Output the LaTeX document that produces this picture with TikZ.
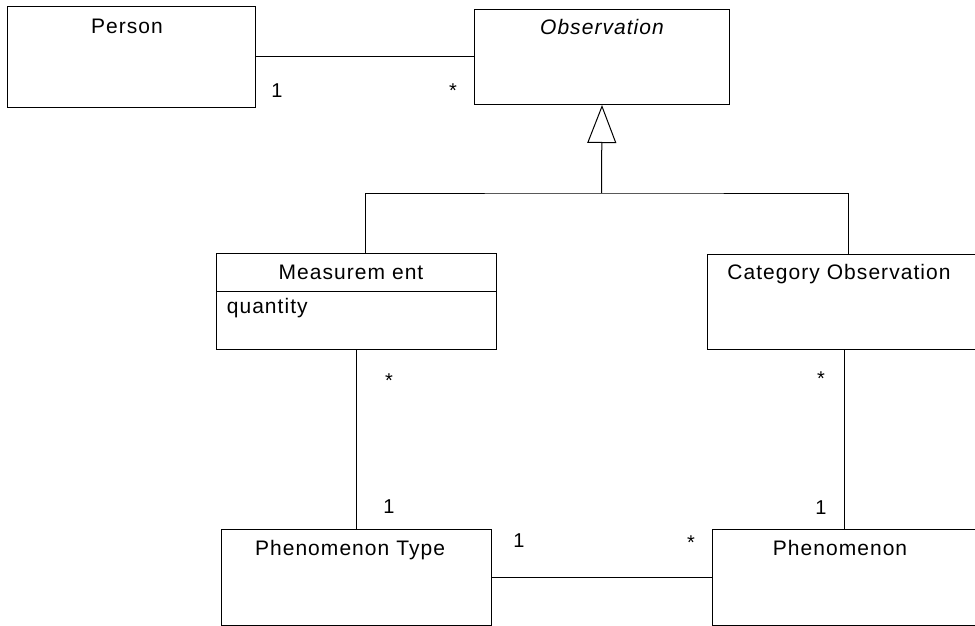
\documentclass[tikz,border=0pt]{standalone}
\usepackage{fontspec}
\setmainfont[LetterSpace=5]{Liberation Sans}
\usetikzlibrary{arrows.meta}

\begin{document}
\begin{tikzpicture}[x=1pt,y=-1pt,line width=1pt,
  umlbox/.style={draw,anchor=north west,inner sep=0pt},
  txt/.style={anchor=base,font=\fontsize{21}{25}\selectfont},
  mult/.style={anchor=base,font=\fontsize{20}{24}\selectfont}]
\useasboundingbox (0,0) rectangle (975,626);
\clip (0,0) rectangle (975,626);
% Classes
\node[umlbox,minimum width=248pt,minimum height=101pt] (person) at (7,6) {};
\node[umlbox,minimum width=255pt,minimum height=95pt] (obs) at (474,9) {};
\node[umlbox,minimum width=280pt,minimum height=96pt] (meas) at (216,253) {};
\node[umlbox,minimum width=282pt,minimum height=95pt] (cat) at (707,254) {};
\node[umlbox,minimum width=270pt,minimum height=96pt] (ptype) at (221,529) {};
\node[umlbox,minimum width=278pt,minimum height=96pt] (phen) at (712,529) {};
\draw ([yshift=-38pt]meas.north west) -- ([yshift=-38pt]meas.north east); % attributes
% Names
\node[txt] (persont) at (127,34) {Person};
\node[txt,font=\fontsize{21}{25}\selectfont\itshape] (obst) at (602,35) {Observation};
\node[txt] (meast) at (351,279) {Measurem ent};
\node[txt,anchor=base west] (quant) at (223,313) {quantity};
\node[txt] (catt) at (839,279) {Category Observation};
\node[txt] (ptypet) at (350,555) {Phenomenon Type};
\node[txt] (phent) at (840,555) {Phenomenon};
% Generalization
\coordinate (gen) at (601.5,193);
\draw[-{Triangle[open,length=38pt,width=29pt]}] (gen) -- (obs.south);
\draw ([xshift=9pt]meas.north) |- (gen) -| (cat.north);
% Associations
\draw (person) -- (obs);
\draw (meas) -- (ptype);
\draw ([xshift=-4pt]cat.south) -- ([xshift=-4pt]cat.south |- phen.north);
\draw (ptype) -- (phen);
\node[mult] (m1) at (277,97) {1}; % Person end
\node[mult] (m2) at (453,98) {*}; % Observation end
\node[mult] (m3) at (389,387) {*};
\node[mult] (m4) at (389,513) {1};
\node[mult] (m5) at (821,385) {*};
\node[mult] (m6) at (821,514) {1};
\node[mult] (m7) at (519,547) {1};
\node[mult] (m8) at (691,549) {*};
\end{tikzpicture}
\end{document}
